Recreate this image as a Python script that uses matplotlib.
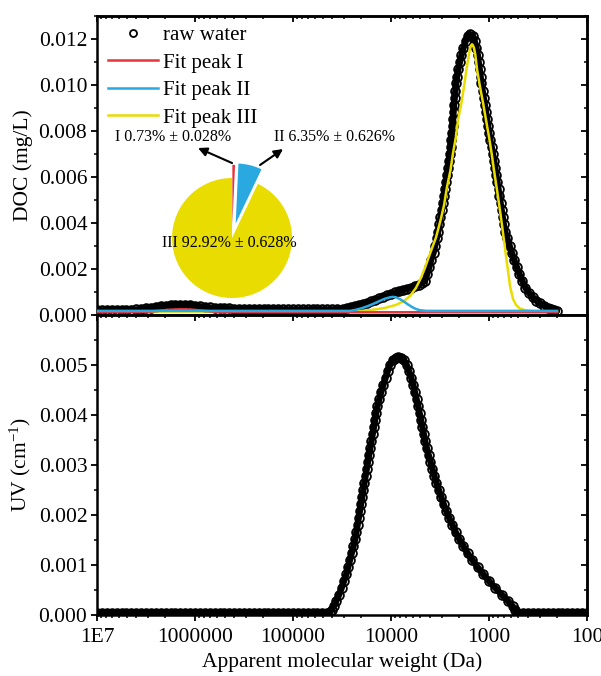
import numpy as np
import matplotlib
matplotlib.use('Agg')
import matplotlib.pyplot as plt
from matplotlib.ticker import MultipleLocator, FormatStrFormatter, NullFormatter, LogLocator

plt.rcParams['font.family'] = ['Liberation Serif', 'DejaVu Serif']
plt.rcParams['mathtext.fontset'] = 'custom'
plt.rcParams['mathtext.rm'] = 'Liberation Serif'
plt.rcParams['mathtext.it'] = 'Liberation Serif:italic'

# ---- DOC chromatogram of the raw water (log10 of MW in Da, mg/L) ----
doc_logmw = [
    7.00, 6.95, 6.90, 6.85, 6.80, 6.75, 6.70, 6.65, 6.60, 6.55,
    6.50, 6.45, 6.40, 6.35, 6.30, 6.25, 6.20, 6.15, 6.10, 6.05,
    6.00, 5.95, 5.90, 5.85, 5.80, 5.75, 5.70, 5.65, 5.60, 5.55,
    5.50, 5.45, 5.40, 5.35, 5.30, 5.25, 5.20, 5.15, 5.10, 5.05,
    5.00, 4.95, 4.90, 4.85, 4.80, 4.75, 4.70, 4.65, 4.60, 4.55,
    4.490, 4.449, 4.408, 4.367, 4.327, 4.286, 4.245, 4.204, 4.163, 4.122,
    4.082, 4.041, 4.000, 3.959, 3.918, 3.878, 3.837, 3.796, 3.755, 3.714,
    3.684,
    3.653, 3.631, 3.608, 3.590, 3.566, 3.549, 3.533, 3.519, 3.506, 3.495,
    3.482, 3.469, 3.458, 3.451, 3.439, 3.426, 3.416, 3.408, 3.399, 3.392,
    3.386, 3.379, 3.372, 3.366, 3.362, 3.357, 3.350, 3.343, 3.335, 3.326,
    3.314, 3.298, 3.281, 3.262, 3.239, 3.216, 3.194,
    3.163, 3.146, 3.128, 3.114, 3.105, 3.095, 3.086, 3.077, 3.066, 3.054,
    3.043, 3.032, 3.020, 3.010, 2.998, 2.987, 2.973, 2.960, 2.947, 2.936,
    2.924, 2.914, 2.903, 2.893, 2.882, 2.870, 2.859, 2.849, 2.836, 2.814,
    2.790, 2.767, 2.744, 2.718, 2.691, 2.661, 2.628,
    2.592, 2.551, 2.520, 2.480, 2.439, 2.398, 2.367, 2.337, 2.306,
]
doc_raw = [
    0.00020, 0.00020, 0.00021, 0.00021, 0.00022, 0.00022, 0.00023, 0.00023, 0.00024, 0.00026,
    0.00029, 0.00032, 0.00035, 0.00038, 0.00041, 0.00043, 0.00044, 0.00045, 0.00044, 0.00043,
    0.00041, 0.00038, 0.00035, 0.00033, 0.00031, 0.00030, 0.00029, 0.00029, 0.00028, 0.00028,
    0.00027, 0.00027, 0.00026, 0.00026, 0.00025, 0.00025, 0.00025, 0.00025, 0.00024, 0.00024,
    0.00024, 0.00024, 0.00024, 0.00024, 0.00024, 0.00024, 0.00024, 0.00024, 0.00024, 0.00025,
    0.00026, 0.00030, 0.00034, 0.00039, 0.00043, 0.00048, 0.00053, 0.00059, 0.00066, 0.00072,
    0.00079, 0.00085, 0.00092, 0.00098, 0.00103, 0.00109, 0.00114, 0.00119, 0.00125, 0.00131,
    0.00138,
    0.00149, 0.00179, 0.00210, 0.00241, 0.00271, 0.00302, 0.00333, 0.00363, 0.00394, 0.00425,
    0.00455, 0.00486, 0.00516, 0.00547, 0.00578, 0.00608, 0.00639, 0.00670, 0.00700, 0.00731,
    0.00761, 0.00792, 0.00823, 0.00853, 0.00884, 0.00915, 0.00945, 0.00976, 0.01007, 0.01037,
    0.01068, 0.01098, 0.01129, 0.01160, 0.01190, 0.01212, 0.01221,
    0.01212, 0.01190, 0.01160, 0.01129, 0.01098, 0.01068, 0.01037, 0.01007, 0.00976, 0.00945,
    0.00915, 0.00884, 0.00853, 0.00823, 0.00792, 0.00761, 0.00731, 0.00700, 0.00670, 0.00639,
    0.00608, 0.00578, 0.00547, 0.00516, 0.00486, 0.00455, 0.00425, 0.00394, 0.00363, 0.00333,
    0.00302, 0.00271, 0.00241, 0.00210, 0.00179, 0.00149, 0.00118,
    0.00096, 0.00077, 0.00063, 0.00051, 0.00041, 0.00032, 0.00025, 0.00021, 0.00018,
]

# ---- fitted peaks ----
fit1_logmw = [7.00, 6.561, 6.459, 6.357, 6.255, 6.153, 6.051, 5.949, 5.847, 5.745, 5.60, 2.306]
fit1 = [0.00012, 0.00012, 0.00015, 0.00019, 0.00023, 0.00025, 0.00024, 0.00020, 0.00016, 0.00013,
        0.00012, 0.00012]

fit2_logmw = [7.00, 6.00, 5.00, 4.50, 4.418, 4.357, 4.296, 4.235, 4.173, 4.112, 4.061, 4.010,
              3.980, 3.949, 3.908, 3.867, 3.827, 3.786, 3.745, 3.704, 3.643, 3.000, 2.306]
fit2 = [0.00018, 0.00018, 0.00018, 0.00018, 0.00018, 0.00023, 0.00030, 0.00039, 0.00050, 0.00062,
        0.00071, 0.00077, 0.00079, 0.00077, 0.00069, 0.00058, 0.00046, 0.00035, 0.00026, 0.00021,
        0.00018, 0.00018, 0.00018]

fit3_logmw = [7.00, 6.00, 5.00, 4.50, 4.316, 4.194, 4.061, 3.949, 3.867, 3.806,
              3.745, 3.694, 3.653, 3.602, 3.541, 3.495, 3.459, 3.429, 3.393, 3.367,
              3.337, 3.316, 3.281, 3.255, 3.230, 3.204, 3.194, 3.183, 3.173, 3.163,
              3.153, 3.140, 3.122, 3.092, 3.061, 3.031, 3.000, 2.974, 2.949, 2.918,
              2.888, 2.867, 2.847, 2.827, 2.806, 2.786, 2.755, 2.724, 2.684, 2.622,
              2.531, 2.306]
fit3 = [0.00015, 0.00015, 0.00015, 0.00015, 0.00017, 0.00022, 0.00031, 0.00044, 0.00061, 0.00083,
        0.00118, 0.00162, 0.00206, 0.00267, 0.00337, 0.00411, 0.00477, 0.00556, 0.00630, 0.00705,
        0.00775, 0.00849, 0.00923, 0.00993, 0.01068, 0.01133, 0.01160, 0.01172, 0.01177, 0.01172,
        0.01160, 0.01133, 0.01068, 0.00993, 0.00923, 0.00849, 0.00775, 0.00705, 0.00630, 0.00543,
        0.00455, 0.00389, 0.00324, 0.00258, 0.00193, 0.00127, 0.00070, 0.00044, 0.00028, 0.00020,
        0.00016, 0.00015]

# ---- UV254 chromatogram (cm-1) ----
uv_logmw = [
    7.00, 6.95, 6.90, 6.85, 6.80, 6.75, 6.70, 6.65, 6.60, 6.55,
    6.50, 6.45, 6.40, 6.35, 6.30, 6.25, 6.20, 6.15, 6.10, 6.05,
    6.00, 5.95, 5.90, 5.85, 5.80, 5.75, 5.70, 5.65, 5.60, 5.55,
    5.50, 5.45, 5.40, 5.35, 5.30, 5.25, 5.20, 5.15, 5.10, 5.05,
    5.00, 4.95, 4.90, 4.85, 4.80, 4.75, 4.70, 4.65,
    4.622, 4.606, 4.584, 4.559, 4.531, 4.504, 4.480, 4.455, 4.437, 4.419,
    4.402, 4.383, 4.365, 4.353, 4.341, 4.329, 4.316, 4.305, 4.294, 4.283,
    4.272, 4.260, 4.248, 4.236, 4.223, 4.211, 4.199, 4.187, 4.174, 4.163,
    4.151, 4.138, 4.119, 4.100, 4.079, 4.056, 4.033, 4.010, 3.983, 3.954,
    3.926, 3.898, 3.867,
    3.840, 3.816, 3.793, 3.773, 3.756, 3.739, 3.723, 3.708, 3.694, 3.680,
    3.665, 3.652, 3.635, 3.616, 3.598, 3.579, 3.558, 3.536, 3.512, 3.489,
    3.463, 3.436, 3.406, 3.374, 3.341, 3.304, 3.263, 3.219, 3.170, 3.117,
    3.061, 3.000, 2.935, 2.867, 2.806, 2.760, 2.735, 2.714,
    2.65, 2.60, 2.55, 2.50, 2.45, 2.40, 2.35, 2.30, 2.25, 2.20, 2.15, 2.10, 2.05, 2.00,
]
uv_raw = [
    0.00004, 0.00004, 0.00004, 0.00004, 0.00004, 0.00004, 0.00004, 0.00004, 0.00004, 0.00004,
    0.00004, 0.00004, 0.00004, 0.00004, 0.00004, 0.00004, 0.00004, 0.00004, 0.00004, 0.00004,
    0.00004, 0.00004, 0.00004, 0.00004, 0.00004, 0.00004, 0.00004, 0.00004, 0.00004, 0.00004,
    0.00004, 0.00004, 0.00004, 0.00004, 0.00004, 0.00004, 0.00004, 0.00004, 0.00004, 0.00004,
    0.00004, 0.00004, 0.00004, 0.00004, 0.00004, 0.00004, 0.00005, 0.00005,
    0.00006, 0.00010, 0.00018, 0.00028, 0.00040, 0.00054, 0.00068, 0.00082, 0.00096, 0.00110,
    0.00124, 0.00138, 0.00152, 0.00166, 0.00180, 0.00194, 0.00208, 0.00222, 0.00236, 0.00250,
    0.00264, 0.00278, 0.00292, 0.00306, 0.00320, 0.00334, 0.00348, 0.00362, 0.00376, 0.00390,
    0.00404, 0.00418, 0.00432, 0.00446, 0.00460, 0.00474, 0.00488, 0.00500, 0.00510, 0.00514,
    0.00516, 0.00514, 0.00510,
    0.00500, 0.00488, 0.00474, 0.00460, 0.00446, 0.00432, 0.00418, 0.00404, 0.00390, 0.00376,
    0.00362, 0.00348, 0.00334, 0.00320, 0.00306, 0.00292, 0.00278, 0.00264, 0.00250, 0.00236,
    0.00222, 0.00208, 0.00194, 0.00180, 0.00166, 0.00152, 0.00138, 0.00124, 0.00110, 0.00096,
    0.00082, 0.00068, 0.00054, 0.00040, 0.00028, 0.00018, 0.00010, 0.00004,
    0.00004, 0.00004, 0.00004, 0.00004, 0.00004, 0.00004, 0.00004, 0.00004, 0.00004, 0.00004,
    0.00004, 0.00004, 0.00004, 0.00004,
]

# ---- peak area shares ----
peak_names = ['I', 'II', 'III']
peak_share = [0.73, 6.35, 92.92]
peak_err = [0.028, 0.626, 0.628]
peak_colors = ['#E5343D', '#2AA8E0', '#E8DC00']

xtick_vals = [1e7, 1e6, 1e5, 1e4, 1e3, 1e2]
xtick_labels = ['1E7', '1000000', '100000', '10000', '1000', '100']

FS = 15.5

fig = plt.figure(figsize=(6.01, 6.76), dpi=100)
ax1 = fig.add_axes([0.1614, 0.5340, 0.8153, 0.4423])
ax2 = fig.add_axes([0.1614, 0.0902, 0.8153, 0.4438], sharex=ax1)

# densely sampled scatter: a thick trace under hollow circles
mk = dict(marker='o', ls='none', ms=6.3, mfc='none', mec='black', mew=1.3)
trace = dict(color='black', lw=4.6, solid_capstyle='round', solid_joinstyle='round')

doc_x = 10 ** np.array(doc_logmw)
uv_x = 10 ** np.array(uv_logmw)
ax1.plot(doc_x, doc_raw, zorder=1.9, **trace)
raw_line, = ax1.plot(doc_x, doc_raw, label='raw water', zorder=2, **mk)
l3, = ax1.plot(10 ** np.array(fit3_logmw), fit3, color=peak_colors[2], lw=1.8, zorder=3)
l1, = ax1.plot(10 ** np.array(fit1_logmw), fit1, color=peak_colors[0], lw=1.8, zorder=4)
l2, = ax1.plot(10 ** np.array(fit2_logmw), fit2, color=peak_colors[1], lw=1.8, zorder=5)

ax2.plot(uv_x, uv_raw, zorder=1.9, **trace)
ax2.plot(uv_x, uv_raw, zorder=2, **mk)

ax1.set_xscale('log')
ax1.set_xlim(1e7, 1e2)
ax1.set_ylim(0, 0.013)
ax2.set_ylim(0, 0.006)

ax1.yaxis.set_major_locator(MultipleLocator(0.002))
ax1.yaxis.set_minor_locator(MultipleLocator(0.001))
ax2.yaxis.set_major_locator(MultipleLocator(0.001))
ax2.yaxis.set_minor_locator(MultipleLocator(0.0005))
ax2.set_yticks([0, 0.001, 0.002, 0.003, 0.004, 0.005])
for ax in (ax1, ax2):
    ax.yaxis.set_major_formatter(FormatStrFormatter('%.3f'))
    for s in ax.spines.values():
        s.set_linewidth(1.8)
    ax.tick_params(which='major', direction='out', length=4, width=1.3, labelsize=FS, pad=3)
    ax.tick_params(which='minor', direction='out', length=2.5, width=1.1)
    ax.tick_params(axis='x', which='major', pad=5)
    ax.xaxis.set_minor_locator(LogLocator(base=10, subs=range(2, 10), numticks=20))
    ax.xaxis.set_minor_formatter(NullFormatter())
    # mirrored ticks pointing inwards on top and right
    sy = ax.secondary_yaxis('right')
    sy.yaxis.set_major_locator(ax.yaxis.get_major_locator())
    sy.yaxis.set_minor_locator(ax.yaxis.get_minor_locator())
    sy.tick_params(which='major', direction='in', length=4, width=1.3, labelright=False)
    sy.tick_params(which='minor', direction='in', length=2.5, width=1.1)
    sy.spines['right'].set_linewidth(1.8)
    sx = ax.secondary_xaxis('top')
    sx.set_xticks(xtick_vals)
    sx.xaxis.set_minor_locator(LogLocator(base=10, subs=range(2, 10), numticks=20))
    sx.xaxis.set_minor_formatter(NullFormatter())
    sx.tick_params(which='major', direction='in', length=4, width=1.3, labeltop=False)
    sx.tick_params(which='minor', direction='in', length=2.5, width=1.1)
    sx.spines['top'].set_linewidth(1.8)

ax2.set_xticks(xtick_vals)
ax2.set_xticklabels(xtick_labels)
ax1.tick_params(labelbottom=False)

ax1.set_ylabel('DOC (mg/L)', fontsize=FS)
ax2.set_ylabel(r'UV (cm$^{-1}$)', fontsize=FS)
ax2.set_xlabel('Apparent molecular weight (Da)', fontsize=FS, labelpad=4)
ax1.yaxis.set_label_coords(-0.131, 0.5)
ax2.yaxis.set_label_coords(-0.131, 0.5)

# legend entries: measured data plus the three fitted peaks
ax1.legend([raw_line, l1, l2, l3], ['raw water', 'Fit peak I', 'Fit peak II', 'Fit peak III'],
           loc='upper left', bbox_to_anchor=(0.022, 0.968),
           frameon=False, fontsize=15, handlelength=2.4, handletextpad=0.25,
           labelspacing=0.38, borderpad=0, borderaxespad=0, numpoints=1, markerscale=0.8)

# pie of peak area shares
axp = fig.add_axes([0.1265, 0.5503, 0.5591, 0.2751])
axp.pie(peak_share, colors=peak_colors, startangle=90, counterclock=False,
        explode=[0.22, 0.25, 0.0], radius=1.0, wedgeprops=dict(linewidth=0))
axp.set_xlim(-2.6, 3.0)
axp.set_ylim(-1.1, 2.0)
axp.set_aspect('equal')
axp.axis('off')

pie_txt = [f'{n} {s:.2f}% \u00b1 {e:.3f}%' for n, s, e in zip(peak_names, peak_share, peak_err)]
axp.text(-0.983, 1.683, pie_txt[0], ha='center', va='center', fontsize=11.5)
axp.text(1.70, 1.683, pie_txt[1], ha='center', va='center', fontsize=11.5)
axp.text(-0.05, -0.083, pie_txt[2], ha='center', va='center', fontsize=11.5)
arrow = dict(arrowstyle='-|>', color='black', lw=1.5, mutation_scale=13, shrinkA=0, shrinkB=0)
axp.annotate('', xy=(-0.567, 1.5), xytext=(0.0, 1.25), arrowprops=arrow)
axp.annotate('', xy=(0.85, 1.483), xytext=(0.467, 1.217), arrowprops=arrow)

fig.savefig('out.png', dpi=100)
